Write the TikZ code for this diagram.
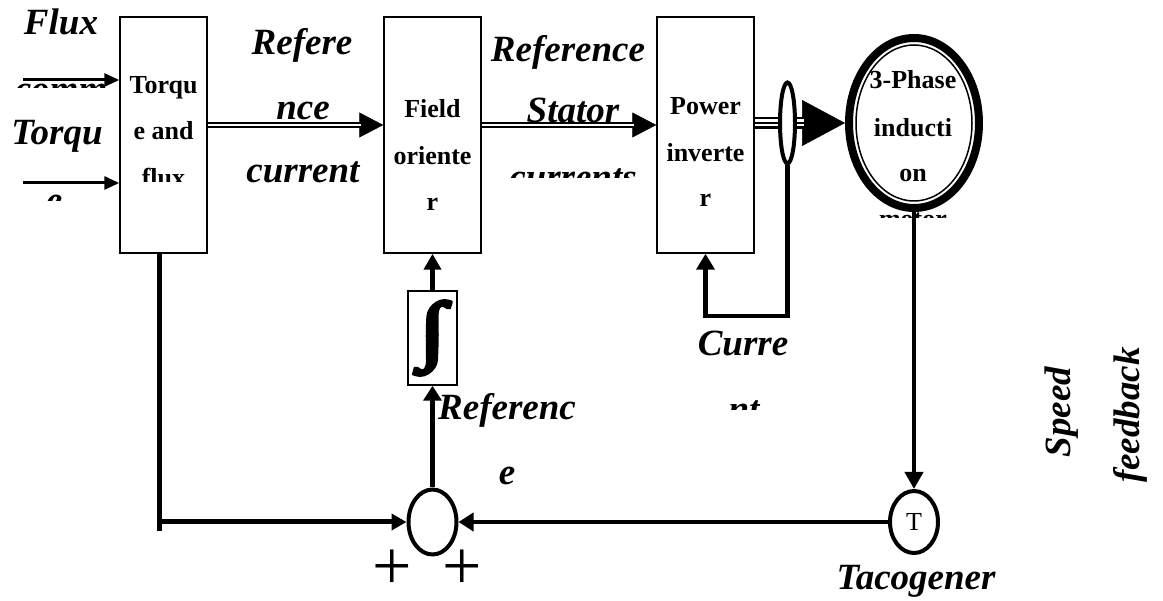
\documentclass[tikz,border=0pt]{standalone}
\usepackage{fontspec}
\usepackage{graphicx}
\setmainfont{Liberation Serif}
\newfontfamily\intfont[FakeBold=5]{Liberation Serif}
\usetikzlibrary{arrows.meta,shapes.geometric}
\begin{document}
\begin{tikzpicture}[x=1pt,y=-1pt,
  blockbox/.style={draw, line width=1.5pt, rectangle, inner sep=0pt, minimum width=#1, minimum height=236pt},
  lab/.style={font={\fontsize{37}{37}\selectfont\bfseries\itshape}, anchor=base, inner sep=0pt},
  btxt/.style={font={\fontsize{26}{26}\selectfont\bfseries}, anchor=base, inner sep=0pt},
  thinarrow/.style={line width=3pt, -{Triangle[length=15pt,width=13pt]}},
  dblline/.style={line width=2.2pt, double, double distance=2.5pt},
  fatline/.style={line width=4.5pt},
  oval/.style={ellipse, draw, inner sep=0pt},
  plussign/.style={font={\fontsize{70}{70}\selectfont}, inner sep=0pt, anchor=base}
]
\useasboundingbox (0,0) rectangle (1163,601);

% ---------- blocks ----------
\node[blockbox=87pt] (b1) at (163.5,135) {};
\node[blockbox=97pt] (fo) at (432.5,135) {};
\node[blockbox=97pt] (pi) at (705.5,135) {};
\node[oval, line width=8pt, minimum width=130pt, minimum height=170pt] (mo) at (914,123) {};
\node[oval, line width=1.5pt, minimum width=116pt, minimum height=156pt] (moi) at (mo.center) {};
\node[draw, line width=1.5pt, rectangle, inner sep=0pt, minimum width=49pt, minimum height=94pt] (it) at (432.5,338)
  {\resizebox*{26pt}{74pt}{\intfont ∫}};
\node[oval, line width=4pt, minimum width=48pt, minimum height=65pt] (sm) at (432.5,522) {};
\node[oval, line width=4pt, minimum width=48pt, minimum height=62pt, font={\fontsize{26}{26}\selectfont}] (tg) at (914,522) {T};

% ---------- block texts ----------
\node[btxt] (b1t1) at (163.5,94) {Torqu};
\node[btxt] (b1t2) at (163.5,140) {e and};
\begin{scope}
  \clip (120,150) rectangle (207,182);
  \node[btxt] (b1t3) at (163.5,187) {flux};
\end{scope}
\node[btxt] (fot1) at (432.5,118) {Field};
\node[btxt] (fot2) at (432.5,165) {oriente};
\node[btxt] (fot3) at (432.5,211) {r};
\node[btxt] (pit1) at (705.5,115) {Power};
\node[btxt] (pit2) at (705.5,162) {inverte};
\node[btxt] (pit3) at (705.5,207) {r};
\node[btxt] (mot1) at (913,89) {3-Phase};
\node[btxt] (mot2) at (913,137) {inducti};
\node[btxt] (mot3) at (913,182) {on};
\begin{scope}
  \clip (860,195) rectangle (970,218);
  \node[btxt] (mot4) at (913,228) {motor};
\end{scope}

% ---------- labels ----------
\node[lab] (fl1) at (61,35) {Flux};
\begin{scope}
  \clip (0,70) rectangle (118,88);
  \node[lab] (fl2) at (61,102) {comm};
\end{scope}
\node[lab] (tq1) at (57,145) {Torqu};
\begin{scope}
  \clip (0,160) rectangle (118,201);
  \node[lab] (tq2) at (54,213) {e};
\end{scope}
\node[lab] (rc1) at (302,55) {Refere};
\node[lab] (rc2) at (303,120) {nce};
\node[lab] (rc3) at (303,183) {current};
\node[lab] (rs1) at (568,62) {Reference};
\node[lab] (rs2) at (573,123) {Stator};
\begin{scope}
  \clip (490,150) rectangle (655,178);
  \node[lab] (rs3) at (573,190) {currents};
\end{scope}
\node[lab] (rf1) at (507,420) {Referenc};
\node[lab] (rf2) at (507,485) {e};
\node[lab] (cu1) at (743,356) {Curre};
\begin{scope}
  \clip (690,380) rectangle (800,410);
  \node[lab] (cu2) at (744,422) {nt};
\end{scope}
\node[lab] (tacho) at (916,590) {Tacogener};
\node[lab, rotate=90, anchor=center] (spd) at (1062,412) {Speed};
\node[lab, rotate=90, anchor=center] (fbk) at (1130,415) {feedback};
\node[plussign] (pl1) at (392,590) {+};
\node[plussign] (pl2) at (462,590) {+};

% ---------- inputs ----------
\coordinate (fluxin) at (23,80);
\coordinate (torqin) at (23,183);
\draw[thinarrow] (fluxin) -- (fluxin -| b1.west);
\draw[thinarrow] (torqin) -- (torqin -| b1.west);

% ---------- double-line arrows ----------
\draw[line width=0.5pt, -{Triangle[length=24pt,width=25pt]}] ([yshift=10pt]b1.east) -- ([yshift=10pt]fo.west);
\draw[dblline, shorten >=22pt] ([yshift=10pt]b1.east) -- ([yshift=10pt]fo.west);
\draw[line width=0.5pt, -{Triangle[length=24pt,width=25pt]}] ([yshift=10pt]fo.east) -- ([yshift=10pt]pi.west);
\draw[dblline, shorten >=22pt] ([yshift=10pt]fo.east) -- ([yshift=10pt]pi.west);

% ---------- triple line to motor ----------
\draw[line width=0.5pt, -{Triangle[length=43pt,width=46pt]}] (pi.east |- mo.west) -- (mo.west);
\draw[line width=2.5pt, double, double distance=7pt, shorten >=41pt] (pi.east |- mo.west) -- (mo.west);
\draw[line width=2.5pt, shorten >=41pt] (pi.east |- mo.west) -- (mo.west);
\node[oval, fill=white, line width=4pt, minimum width=15pt, minimum height=81pt] (se) at (787.5,123) {};

% ---------- current feedback ----------
\coordinate (fbc) at (787.5,316);
\draw[fatline, -{Triangle[length=16pt,width=18pt]}] (se.south) -- (fbc) -- (fbc -| pi.south) -- (pi.south);

% ---------- speed loop ----------
\draw[line width=4pt, -{Triangle[length=17pt,width=18pt]}] (mo.south) -- (tg.north);
\draw[fatline, -{Triangle[length=15pt,width=18pt]}] (tg.west) -- (sm.east);
\coordinate (dl) at (159,531);
\draw[line width=5pt] (b1.south -| dl) -- (dl);
\draw[line width=5pt, -{Triangle[length=15pt,width=16pt]}] (dl |- sm.west) -- (sm.west);
\draw[line width=5pt, -{Triangle[length=15pt,width=18pt]}] (sm.north) -- (it.south);
\draw[line width=5pt, -{Triangle[length=16pt,width=17pt]}] (it.north) -- (fo.south);
\end{tikzpicture}
\end{document}
